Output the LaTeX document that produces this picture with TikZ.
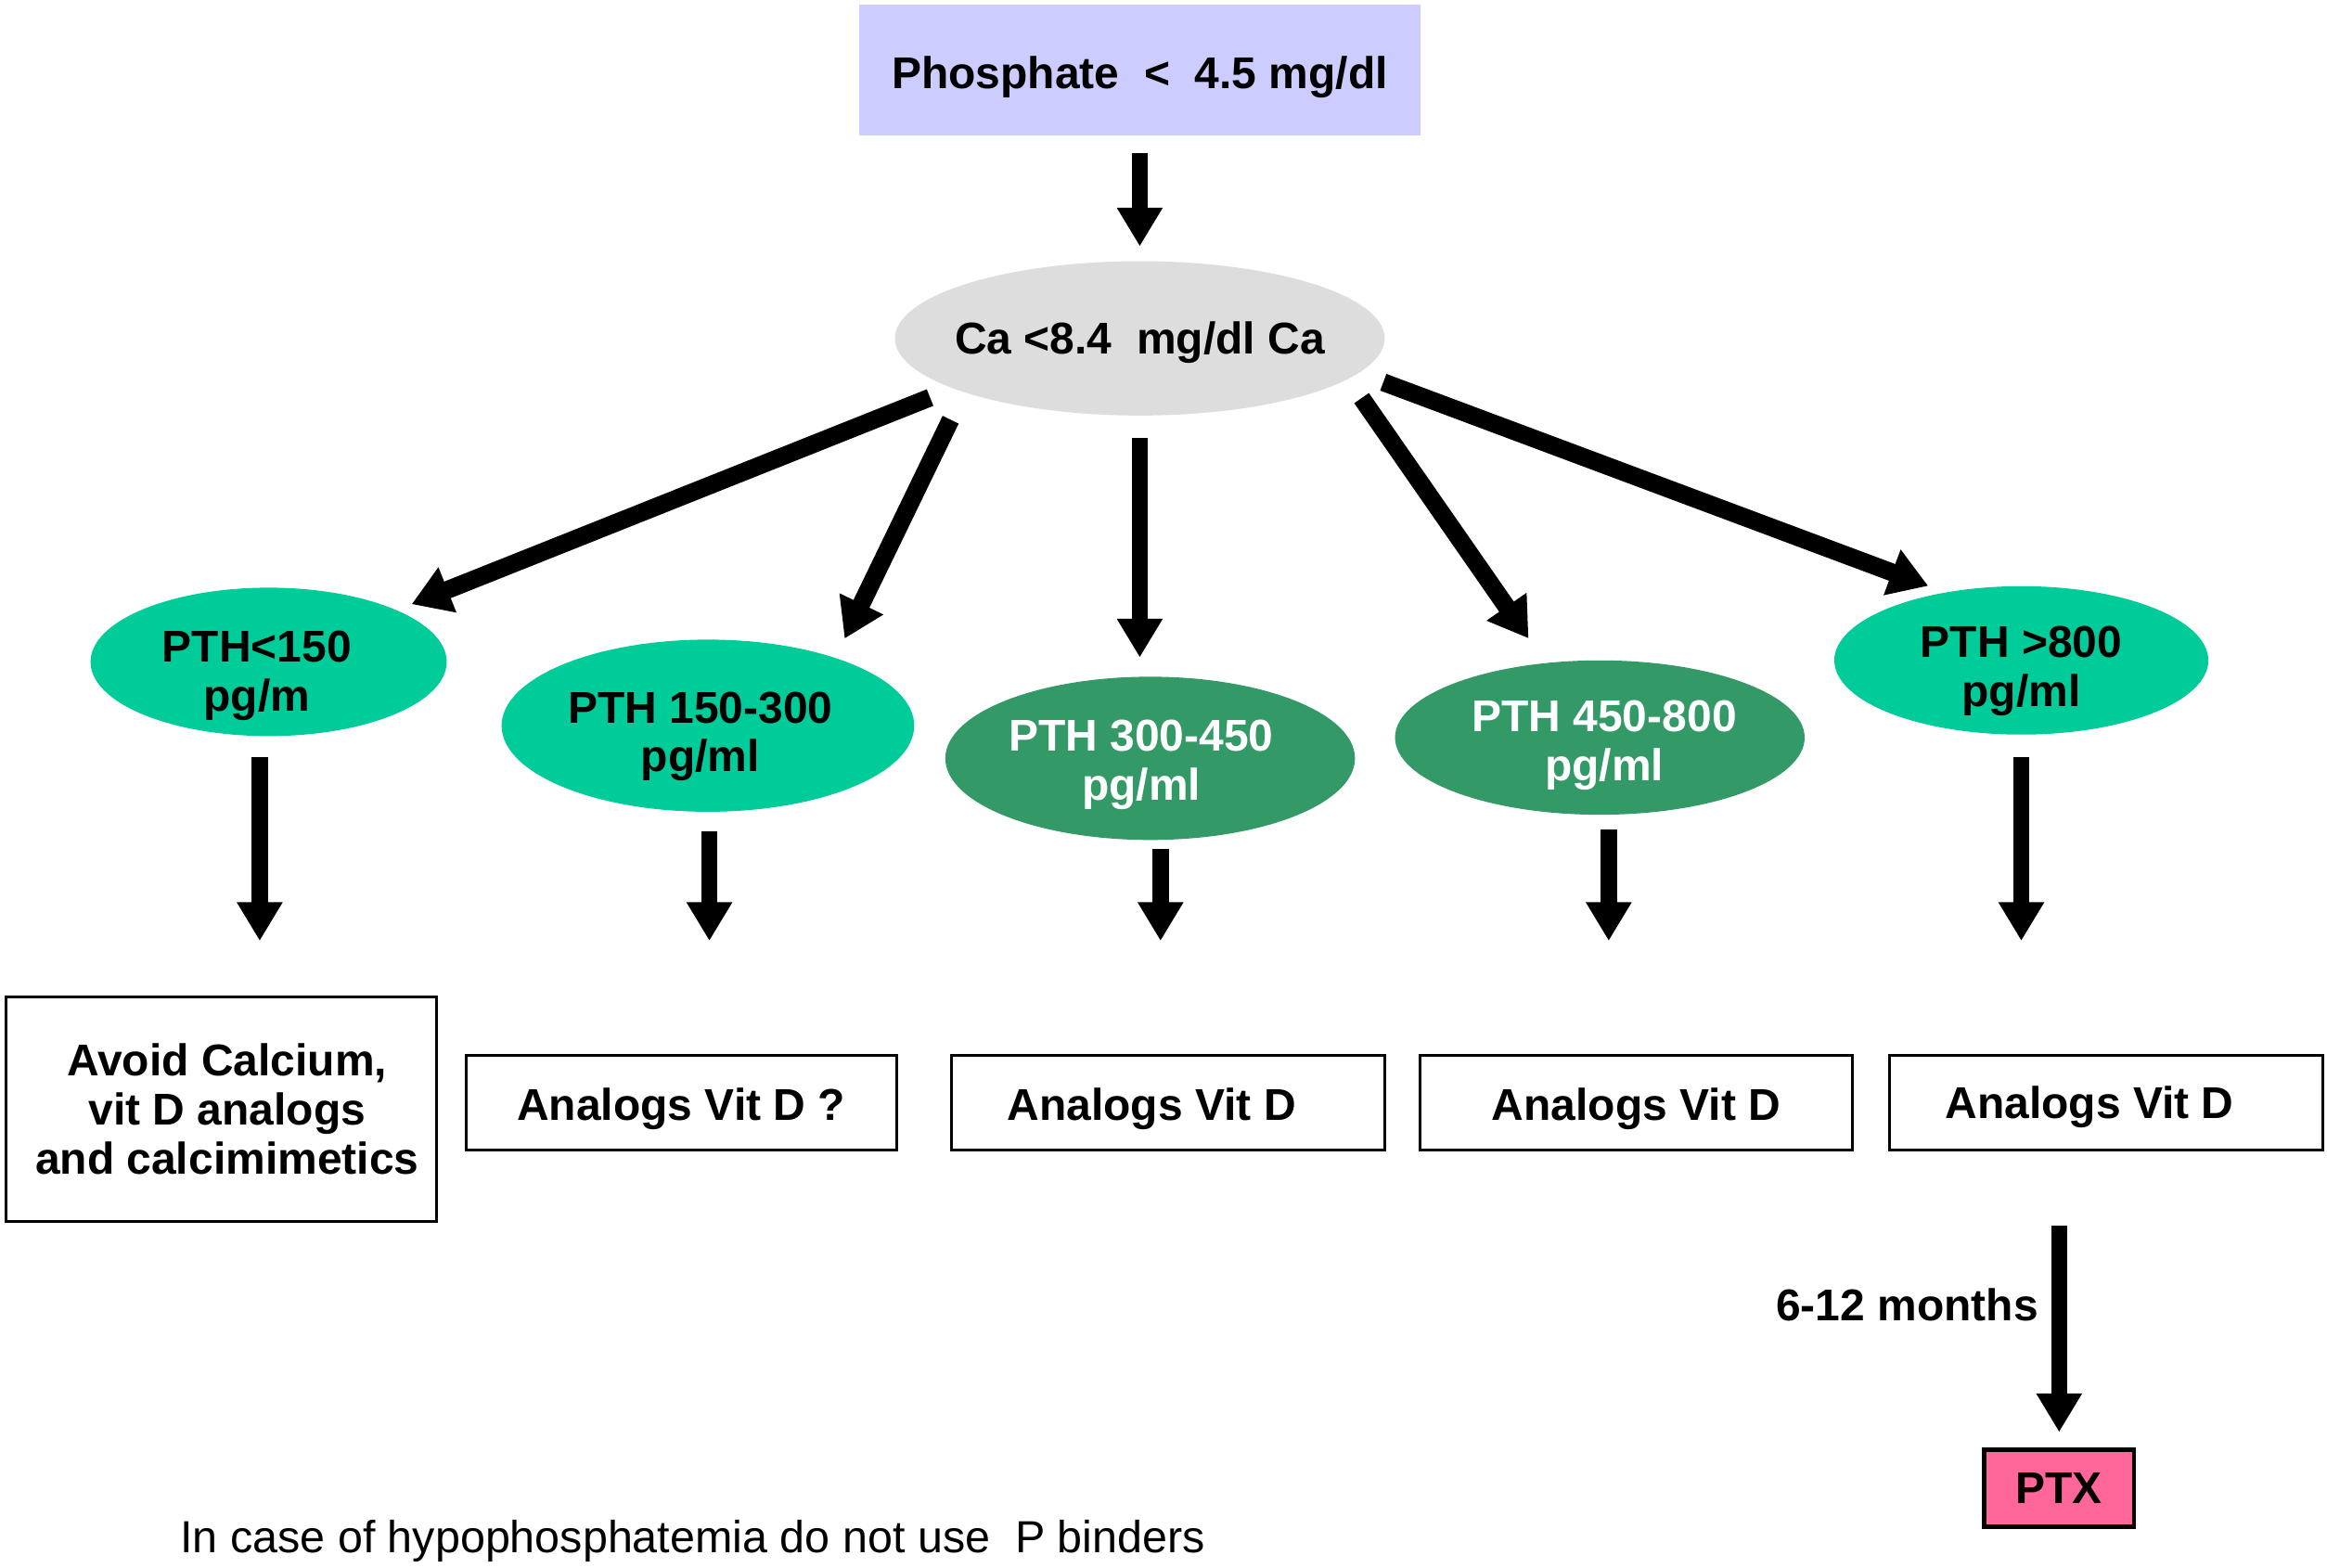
\documentclass[tikz,border=0pt]{standalone}
\usepackage{fontspec}
\setmainfont{Liberation Sans}
\usetikzlibrary{arrows.meta,shapes.geometric,calc}
\definecolor{lav}{HTML}{CCCCFF}
\definecolor{cagray}{HTML}{DDDDDD}
\definecolor{tealA}{HTML}{00CC99}
\definecolor{greenB}{HTML}{339966}
\definecolor{ptxpink}{HTML}{FF6699}
% zero-width centred text block, shifted by #1 (right) and #2 (down)
\newcommand\zb[3]{\raisebox{-#2}[\height][\depth]{\makebox[0pt]{\hspace*{#1}\hspace*{#1}\begin{tabular}{@{}c@{}}#3\end{tabular}}}}
\newcommand\lo[2]{\raisebox{-#1}[\height][\depth]{#2}}
\begin{document}
\begin{tikzpicture}[x=1pt,y=-1pt,
  every node/.style={font=\fontsize{30}{33}\selectfont\bfseries},
  ell/.style={ellipse,inner sep=0pt,outer sep=0pt},
  box/.style={draw,line width=2pt,inner sep=0pt,outer sep=0pt,align=center},
  arr/.style={line width=11pt,-{Triangle[length=26pt,width=29pt]}},
  darr/.style={line width=12pt,-{Triangle[length=26pt,width=31pt]}}
]
\useasboundingbox (0,0) rectangle (1568,1056);
% nodes
\node[fill=lav,minimum width=378,minimum height=88,inner sep=0pt,outer sep=0pt] (phos) at (768,47) {\lo{5pt}{Phosphate \ < \ 4.5 mg/dl}};
\node[ell,fill=cagray,minimum width=330,minimum height=104] (ca) at (768,228) {\zb{0pt}{4pt}{Ca <8.4 \ mg/dl Ca}};
\node[ell,fill=tealA,minimum width=240,minimum height=100] (p1) at (181,446) {\zb{-8pt}{10pt}{PTH<150\\pg/m}};
\node[ell,fill=tealA,minimum width=278,minimum height=116] (p2) at (477,489) {\zb{-5pt}{8pt}{PTH 150-300\\pg/ml}};
\node[ell,fill=greenB,text=white,minimum width=276,minimum height=110] (p3) at (775,511) {\zb{-6pt}{5pt}{PTH 300-450\\pg/ml}};
\node[ell,fill=greenB,text=white,minimum width=276,minimum height=104] (p4) at (1078,497) {\zb{3pt}{6pt}{PTH 450-800\\pg/ml}};
\node[ell,fill=tealA,minimum width=252,minimum height=100] (p5) at (1362,445) {\zb{0pt}{8pt}{PTH >800\\pg/ml}};
\node[box,minimum width=290,minimum height=151] (b1) at (149,747.5) {\hspace*{8pt}\lo{4pt}{\begin{tabular}{@{}c@{}}Avoid Calcium,\\vit D analogs\\and calcimimetics\end{tabular}}};
\node[box,minimum width=290,minimum height=64] (b2) at (459,743) {\lo{4pt}{Analogs Vit D ?}};
\node[box,minimum width=292,minimum height=64] (b3) at (787,743) {\hspace*{-22pt}\lo{4pt}{Analogs Vit D}};
\node[box,minimum width=291,minimum height=64] (b4) at (1102.5,743) {\lo{4pt}{Analogs Vit D}};
\node[box,minimum width=292,minimum height=64] (b5) at (1419,743) {\hspace*{-22pt}\lo{3pt}{Analogs Vit D}};
\node[draw,line width=3pt,fill=ptxpink,minimum width=101,minimum height=52,inner sep=0pt,outer sep=0pt] (ptx) at (1387.5,1003) {PTX};
\node[anchor=base east] (mon) at (1377,890) {6-12 months};
\node[anchor=base west,font=\fontsize{30.3}{33}\selectfont] (note) at (118,1046) {In case of hypophosphatemia do not use \ P binders};
% connectors
\draw[arr,shorten <=12,shorten >=10] (phos.south) -- (ca.north);
\draw[darr,shorten <=16.8,shorten >=11] (ca.195.1) -- (p1.22.1);
\draw[darr,shorten <=20.7,shorten >=14.5] (ca.197.2) -- (p2.28.6);
\draw[arr,shorten <=15,shorten >=13] (ca.south) -- (ca.south |- p3.north);
\draw[darr,shorten <=15.8,shorten >=20.3] (ca.349.75) -- (p4.126.1);
\draw[darr,shorten <=17.8,shorten >=12.7] (ca.351.3) -- (p5.138.9);
\draw[arr,shorten <=14,shorten >=38] ($(p1.south)+(-6,0)$) -- ($(p1.south |- b1.north)+(-6,0)$);
\draw[arr,shorten <=13,shorten >=77] ($(p2.south)+(1,0)$) -- ($(p2.south |- b2.north)+(1,0)$);
\draw[arr,shorten <=6,shorten >=77] ($(p3.south)+(7,0)$) -- ($(p3.south |- b3.north)+(7,0)$);
\draw[arr,shorten <=10,shorten >=77] ($(p4.south)+(6,0)$) -- ($(p4.south |- b4.north)+(6,0)$);
\draw[arr,shorten <=15,shorten >=77] (p5.south) -- (p5.south |- b5.north);
\draw[arr,shorten <=51,shorten >=12] (ptx.north |- b5.south) -- (ptx.north);
\end{tikzpicture}
\end{document}
